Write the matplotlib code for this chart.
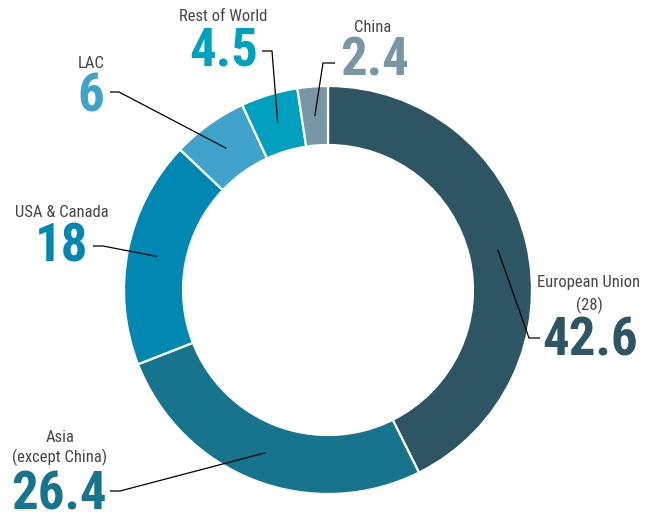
import os
import numpy as np
import matplotlib.pyplot as plt
from matplotlib import font_manager as fm

regions = ["European Union", "Asia", "USA & Canada", "LAC", "Rest of World", "China"]
shares = [42.6, 26.4, 18, 6, 4.5, 2.4]
value_text = ["42.6", "26.4", "18", "6", "4.5", "2.4"]
colors = ["#2d5563", "#16758c", "#0088b2", "#3fa3cc", "#00a0bf", "#7896a4"]


def find_font(names, must=()):
    files = [f.fname for f in fm.fontManager.ttflist]
    for n in names:
        for f in files:
            if os.path.basename(f).lower() == n.lower():
                return f
    for f in files:
        b = os.path.basename(f).lower()
        if must and all(m in b for m in must):
            return f
    return None


num_file = find_font(['RobotoCondensed-ExtraBold.ttf', 'RobotoCondensed-Black.ttf',
                      'RobotoCondensed-Bold.ttf', 'NotoSans-CondensedBold.ttf',
                      'LiberationSansNarrow-Bold.ttf', 'DejaVuSansCondensed-Bold.ttf'],
                     must=('condensed', 'bold'))
lab_file = find_font(['NotoSans-SemiCondensed.ttf', 'OpenSans-CondensedRegular.ttf',
                      'RobotoCondensed-Regular.ttf', 'DejaVuSansCondensed.ttf'])

if num_file:
    num_prop = dict(fontproperties=fm.FontProperties(fname=num_file, size=38))
else:
    num_prop = dict(family='DejaVu Sans', fontweight='bold', fontsize=30)
if lab_file:
    lab_prop = dict(fontproperties=fm.FontProperties(fname=lab_file, size=12))
else:
    lab_prop = dict(family=['Roboto', 'DejaVu Sans'], fontsize=11)

W, H = 660, 515
cx, cy = 328, H - 290
R, ring = 204, 59

fig = plt.figure(figsize=(6.6, 5.15), dpi=100)
ax = fig.add_axes([0, 0, 1, 1])
wedges, _ = ax.pie(shares, colors=colors, startangle=90, counterclock=False,
                   center=(cx, cy), radius=R,
                   wedgeprops=dict(width=ring, edgecolor='white', linewidth=1.6))
ax.set_xlim(0, W)
ax.set_ylim(0, H)
ax.set_aspect('equal')
ax.axis('off')

# layout in pixel coords (y from top): name lines (x, baseline), number (x, baseline), elbow path
name_lines = [
    [("European Union", 589, 287), ("(28)", 589, 310)],
    [("Asia", 60, 442), ("(except China)", 60, 462)],
    [("USA & Canada", 62, 217)],
    [("LAC", 91, 68)],
    [("Rest of World", 223, 21)],
    [("China", 373, 32)],
]
number_pos = [(590, 356), (59, 510), (62, 262), (91, 112), (224, 66), (375, 76)]
elbows = [
    [(529, 338), (540, 338)],
    [(120, 491), (110, 491)],
    [(103, 246), (93, 246)],
    [(119, 92), (110, 92)],
    [(272, 51), (262, 51)],
    [(323, 63), (335, 63)],
]

rm = R - ring / 2

for i, w in enumerate(wedges):
    mid = np.deg2rad((w.theta1 + w.theta2) / 2)
    xs = [cx + rm * np.cos(mid)] + [p[0] for p in elbows[i]]
    ys = [cy + rm * np.sin(mid)] + [H - p[1] for p in elbows[i]]
    ax.plot(xs, ys, color='black', lw=0.9, solid_capstyle='butt')
    for txt, x, y in name_lines[i]:
        ax.text(x, H - y, txt, ha='center', va='baseline', color='#454545', **lab_prop)
    x, y = number_pos[i]
    ax.text(x, H - y, value_text[i], ha='center', va='baseline', color=colors[i], **num_prop)

fig.savefig('out.png', dpi=100)
